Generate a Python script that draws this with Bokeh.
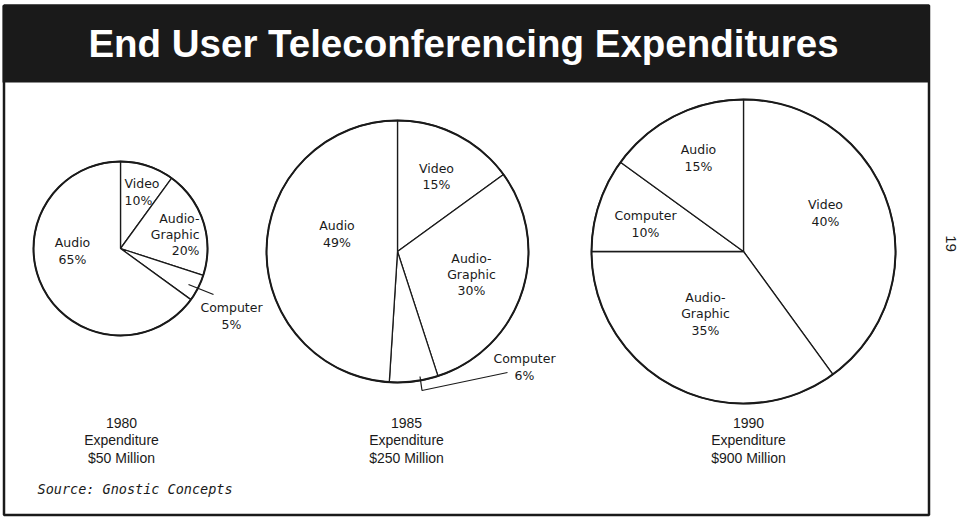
import numpy as np
from bokeh.plotting import figure
from bokeh.models import Range1d, ColumnDataSource
from bokeh.core.properties import value
from bokeh.embed import file_html
from bokeh.resources import INLINE

# ---------------- data ----------------
title = "End User Teleconferencing Expenditures"
years = ["1980", "1985", "1990"]
totals = ["$50 Million", "$250 Million", "$900 Million"]
# slices listed clockwise from 12 o'clock
segments = ["Video", "Audio-Graphic", "Computer", "Audio"]
shares_1980 = [10, 20, 5, 65]
shares_1985 = [15, 30, 6, 49]
shares_1990 = [40, 35, 10, 15]
source_note = "Source: Gnostic Concepts"
page_number = "19"

# ---------------- layout (pixel coords, y measured from top) ----------------
W, H = 960, 520
def Y(py):
    return H - py

pies = [
    dict(shares=shares_1980, cx=120, cy=248, r=87,
         labels={"Video": (124, 191.5, "left"), "Audio-Graphic": (199, 234, "right"),
                 "Computer": (231, 315.5, "center"), "Audio": (72, 250.5, "center")}),
    dict(shares=shares_1985, cx=397, cy=251, r=131,
         labels={"Video": (436, 176, "center"), "Audio-Graphic": (471, 274, "center"),
                 "Computer": (524, 366.5, "center"), "Audio": (336.5, 233.5, "center")}),
    dict(shares=shares_1990, cx=743, cy=251, r=152,
         labels={"Video": (825, 212.5, "center"), "Audio-Graphic": (705, 313.5, "center"),
                 "Computer": (645, 223.5, "center"), "Audio": (698, 157.5, "center")}),
]
caption_x = [121, 406, 748]
caption_y = 440

p = figure(width=W, height=H, x_range=Range1d(0, W), y_range=Range1d(0, H),
           output_backend="svg", toolbar_location=None, min_border=0,
           x_axis_location=None, y_axis_location=None)
p.grid.visible = False
p.outline_line_color = None
p.background_fill_color = "white"
p.border_fill_color = "white"

# frame
p.quad(left=[3.5], right=[928.5], top=[Y(5)], bottom=[Y(514.5)],
       fill_color=None, line_color="#1a1a1a", line_width=2.5)
# title bar
p.quad(left=[2], right=[928.5], top=[Y(5)], bottom=[Y(82)],
       fill_color="#1a1a1a", line_color=None)
p.text(x=[463], y=[Y(43)], text=[title], text_color="white",
       text_font=value("Liberation Sans"), text_font_style="bold",
       text_font_size="38.5px", text_align="center", text_baseline="middle")

# pies
for pie in pies:
    shares = np.array(pie["shares"], dtype=float)
    cum = np.concatenate([[0], np.cumsum(shares)])
    a_cw_start = cum[:-1] / 100 * 2 * np.pi
    a_cw_end = cum[1:] / 100 * 2 * np.pi
    start = np.pi / 2 - a_cw_end
    end = np.pi / 2 - a_cw_start
    src = ColumnDataSource(dict(
        x=[pie["cx"]] * len(shares), y=[Y(pie["cy"])] * len(shares),
        start=start, end=end))
    p.wedge(x="x", y="y", radius=pie["r"], start_angle="start", end_angle="end",
            direction="anticlock", source=src, fill_color="white",
            line_color="#1a1a1a", line_width=1.3)
    p.circle(x=[pie["cx"]], y=[Y(pie["cy"])], radius=pie["r"], fill_color=None,
             line_color="#1a1a1a", line_width=2)
    for name, v in zip(segments, pie["shares"]):
        x, y, align = pie["labels"][name]
        t = name.replace("Audio-Graphic", "Audio-\nGraphic") + "\n" + f"{v}%"
        p.text(x=[x], y=[Y(y)], text=[t], text_align=align, text_baseline="middle",
               text_font=value("DejaVu Sans"), text_font_size="12.5px",
               text_line_height=1.08, text_color="#1a1a1a")

# leader lines for the small Computer slices
p.line(x=[188, 213], y=[Y(284), Y(294)], line_color="#1a1a1a", line_width=1.2)
p.line(x=[419.5, 421.5, 507], y=[Y(376), Y(390), Y(372)], line_color="#1a1a1a", line_width=1.2)

# captions
for x, yr, tot in zip(caption_x, years, totals):
    p.text(x=[x], y=[Y(caption_y)], text=[f"{yr}\nExpenditure\n{tot}"],
           text_align="center", text_baseline="middle",
           text_font=value("Liberation Sans"), text_font_size="14px",
           text_line_height=1.08, text_color="#1a1a1a")

p.text(x=[37], y=[Y(488)], text=[source_note], text_align="left", text_baseline="middle",
       text_font=value("DejaVu Sans Mono"), text_font_style="italic",
       text_font_size="13.5px", text_color="#1a1a1a")

p.text(x=[950], y=[Y(243)], text=[page_number], angle=-np.pi / 2,
       text_align="center", text_baseline="middle",
       text_font=value("Liberation Sans"), text_font_size="15px", text_color="#1a1a1a")

open("out.html", "w").write(file_html(p, INLINE))
